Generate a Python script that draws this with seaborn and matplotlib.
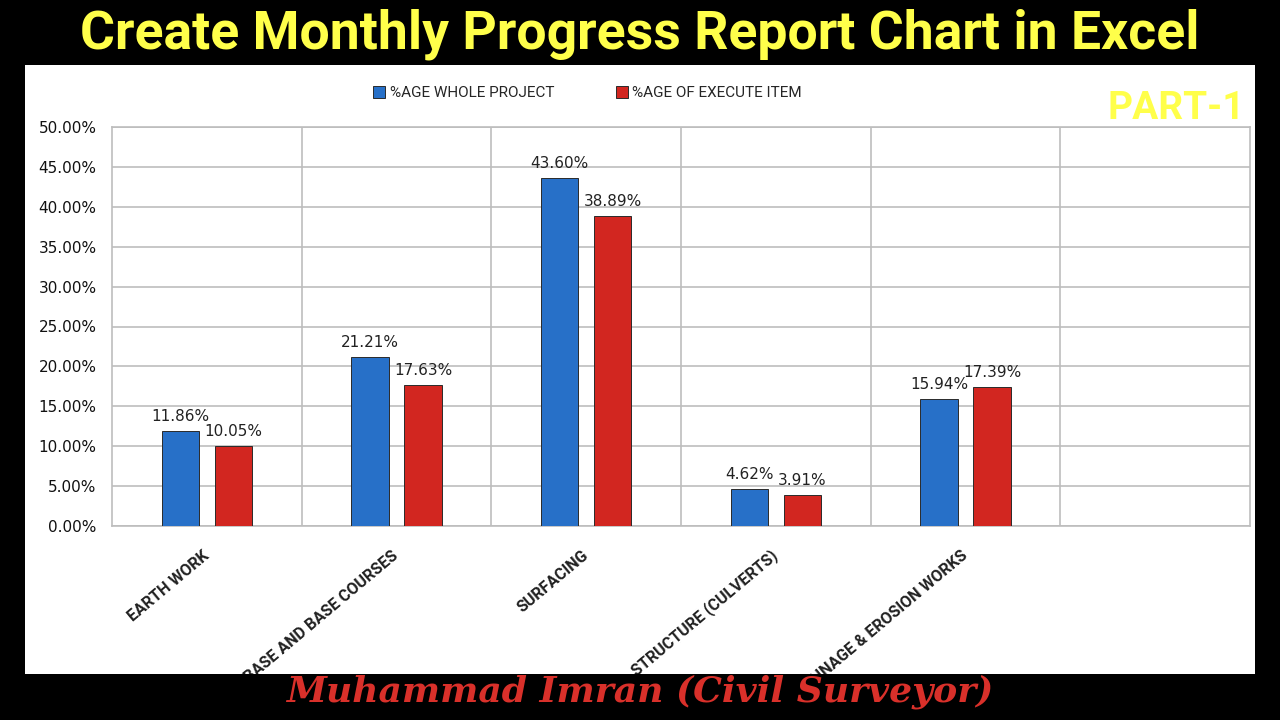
# Monthly Progress Report Chart (Nachbau)

import matplotlib
matplotlib.use("Agg")
import matplotlib.pyplot as plt
from matplotlib.patches import Rectangle
import seaborn as sns
import pandas as pd

# Daten
kategorien = ["EARTH WORK", "SUB BASE AND BASE COURSES", "SURFACING",
              "STRUCTURE (CULVERTS)", "DRAINAGE & EROSION WORKS"]
whole_project = [11.86, 21.21, 43.60, 4.62, 15.94]
execute_item = [10.05, 17.63, 38.89, 3.91, 17.39]
serien = ["%AGE WHOLE PROJECT", "%AGE OF EXECUTE ITEM"]
y_ticks = [0, 5, 10, 15, 20, 25, 30, 35, 40, 45, 50]

# Long-Format fuer seaborn
df = pd.DataFrame({
    "Kategorie": kategorien * 2,
    "Serie": [serien[0]] * len(kategorien) + [serien[1]] * len(kategorien),
    "Wert": whole_project + execute_item,
})

sns.set_style("white")
plt.rcParams["font.family"] = ["DejaVu Sans"]
schmal = ["Roboto", "DejaVu Sans"]

fig = plt.figure(figsize=(12.8, 7.2), dpi=100)
fig.patch.set_facecolor("black")

# weisses Panel hinter dem Diagramm
fig.patches.append(Rectangle((25 / 1280, 45 / 720), 1230 / 1280, 610 / 720,
                             transform=fig.transFigure, facecolor="white",
                             edgecolor="none", zorder=-1))

ax = fig.add_axes([112 / 1280, 1 - 526 / 720, 1138 / 1280, 399 / 720])

blau = "#2770c8"
rot = "#d22620"
sns.barplot(data=df, x="Kategorie", y="Wert", hue="Serie", order=kategorien,
            hue_order=serien, palette=[blau, rot], saturation=1, width=0.56,
            gap=0.3, edgecolor="#2a2a2a", linewidth=0.7, ax=ax, zorder=3)

# Datenbeschriftungen
for cont in ax.containers:
    ax.bar_label(cont, fmt="%.2f%%", padding=5, fontsize=11, color="#222222")

# Achsen
ax.set_xlim(-0.5, 5.5)
ax.set_ylim(0, 50)
ax.set_yticks(y_ticks)
ax.set_yticklabels([f"{v:.2f}%" for v in y_ticks], fontsize=11, color="#111111")
ax.set_xlabel("")
ax.set_ylabel("")
ax.set_xticks(range(len(kategorien)))
ax.set_xticklabels(kategorien, rotation=40, ha="right", rotation_mode="anchor",
                   va="center", fontsize=11.5, fontweight="bold",
                   family=schmal, color="#222222")
ax.tick_params(axis="x", length=0, pad=20)
ax.tick_params(axis="y", length=0, pad=11)

# Gitternetz
ax.set_xticks([0.5, 1.5, 2.5, 3.5, 4.5], minor=True)
ax.tick_params(axis="x", which="minor", length=0)
ax.grid(axis="y", color="#bdbdbd", linewidth=1.2, zorder=0)
ax.grid(axis="x", which="minor", color="#bdbdbd", linewidth=1.2, zorder=0)
ax.set_axisbelow(True)
for sp in ax.spines.values():
    sp.set_color("#bdbdbd")
    sp.set_linewidth(1.2)

# Legende
sns.move_legend(ax, "center", bbox_to_anchor=(0.418, 1.085), ncol=2,
                frameon=False, title=None, handlelength=0.8,
                handleheight=0.8, columnspacing=4, handletextpad=0.3,
                prop={"family": schmal, "size": 11})

# Titel
fig.text(0.5, 0.953, "Create Monthly Progress Report Chart in Excel",
         ha="center", va="center", fontsize=38.5, fontweight="bold",
         family=schmal, color="#ffff4a")
fig.text(0.9727, 0.849, "PART-1", ha="right", va="center", fontsize=28,
         fontweight="bold", family=schmal, color="#ffff4a")

# schwarzer Streifen unten mit Autorenzeile
fig.patches.append(Rectangle((0, 0), 1, 46 / 720, transform=fig.transFigure,
                             facecolor="black", edgecolor="none", zorder=10))
fig.text(0.5, 1 - 692 / 720, "Muhammad Imran (Civil Surveyor)", ha="center",
         va="center", fontsize=26, fontweight="bold", fontstyle="italic",
         family="DejaVu Serif", color="#d9302a", zorder=11)

fig.savefig("out.png", dpi=100, facecolor="black")
